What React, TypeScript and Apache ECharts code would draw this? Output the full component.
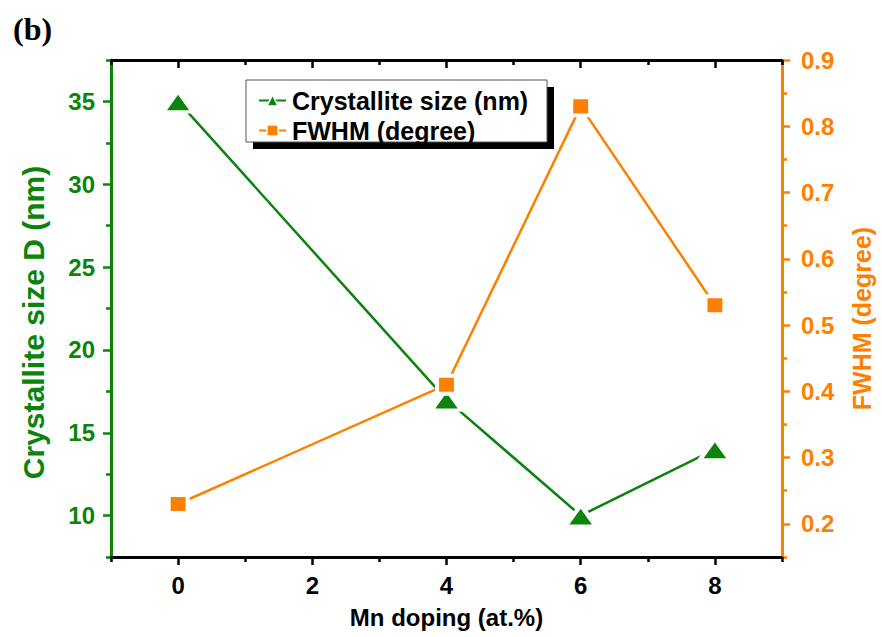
import React, { useEffect, useRef } from "react";
import * as echarts from "echarts";

const dopingX = [0, 4, 6, 8];
const crystalliteSize = [35, 17, 10, 14];
const fwhmDegree = [0.23, 0.41, 0.83, 0.53];

const xMajorTicks = [0, 2, 4, 6, 8];
const xMinorTicks = [-1, 1, 3, 5, 7, 9];
const leftMajorTicks = [10, 15, 20, 25, 30, 35];
const leftMinorTicks = [7.5, 12.5, 17.5, 22.5, 27.5, 32.5, 37.5];
const rightMajorTicks = [0.2, 0.3, 0.4, 0.5, 0.6, 0.7, 0.8, 0.9];
const rightMinorTicks = [0.15, 0.25, 0.35, 0.45, 0.55, 0.65, 0.75, 0.85];

const GREEN = "#0a840a";
const ORANGE = "#ff8000";
const FONT = "Arial, 'Liberation Sans', Helvetica, sans-serif";

export default function App() {
  const ref = useRef<HTMLDivElement>(null);
  useEffect(() => {
    document.body.style.margin = "0";
    const chart = echarts.init(ref.current!, null, { renderer: "svg" });
    const baseX = { type: "value", min: -1, max: 9, splitLine: { show: false } };
    const tickStyle = (color: string) => ({ color, width: 2.5 });
    const option: any = {
      animation: false,
      backgroundColor: "#fff",
      title: {
        text: "(b)",
        left: 8,
        top: 8,
        textStyle: {
          fontFamily: "'Times New Roman', 'Liberation Serif', serif",
          fontWeight: "bold",
          fontSize: 32,
          color: "#000",
        },
      },
      grid: { left: 111, right: 99, top: 60, bottom: 80 },
      graphic: [
        { type: "rect", z: 10, shape: { x: 253, y: 87, width: 301, height: 62 }, style: { fill: "#000" } },
        { type: "rect", z: 11, shape: { x: 246, y: 80, width: 301, height: 62 }, style: { fill: "#fff", stroke: "#555", lineWidth: 1 } },
      ],
      legend: {
        z: 20,
        orient: "vertical",
        left: 252,
        top: 84,
        padding: [4, 6, 4, 6],
        itemGap: 5,
        itemWidth: 27,
        itemHeight: 14,
        itemStyle: { borderWidth: 1.5, borderColor: "#fff" },
        textStyle: { fontFamily: FONT, fontWeight: "bold", fontSize: 25, color: "#000", padding: [0, 0, 0, 1] },
        data: ["Crystallite size (nm)", "FWHM (degree)"],
      },
      xAxis: [
        {
          ...baseX,
          position: "bottom",
          name: "Mn doping (at.%)",
          nameLocation: "middle",
          nameGap: 48,
          nameTextStyle: { fontFamily: FONT, fontWeight: "bold", fontSize: 24, color: "#000" },
          axisLine: { show: true, onZero: false, lineStyle: { color: "#000", width: 3 } },
          axisTick: { show: true, customValues: xMajorTicks, length: 8, lineStyle: tickStyle("#000") },
          axisLabel: {
            show: true,
            customValues: xMajorTicks,
            margin: 16,
            fontFamily: FONT,
            fontWeight: "bold",
            fontSize: 24,
            color: "#000",
          },
        },
        {
          ...baseX,
          position: "bottom",
          axisLine: { show: false, onZero: false },
          axisTick: { show: true, customValues: xMinorTicks, length: 5, lineStyle: tickStyle("#000") },
          axisLabel: { show: false },
        },
        {
          ...baseX,
          position: "top",
          axisLine: { show: true, onZero: false, lineStyle: { color: "#000", width: 3 } },
          axisTick: { show: true, inside: true, customValues: xMajorTicks, length: 8, lineStyle: tickStyle("#000") },
          axisLabel: { show: false },
        },
        {
          ...baseX,
          position: "top",
          axisLine: { show: false, onZero: false },
          axisTick: { show: true, inside: true, customValues: xMinorTicks, length: 5, lineStyle: tickStyle("#000") },
          axisLabel: { show: false },
        },
      ],
      yAxis: [
        {
          type: "value",
          position: "left",
          min: 7.5,
          max: 37.5,
          splitLine: { show: false },
          name: "Crystallite size D (nm)",
          nameLocation: "middle",
          nameRotate: 90,
          nameGap: 63,
          nameTextStyle: { fontFamily: FONT, fontWeight: "bold", fontSize: 30, color: GREEN, padding: [0, 28, 0, 0] },
          axisLine: { show: true, onZero: false, lineStyle: { color: GREEN, width: 3 } },
          axisTick: { show: true, customValues: leftMajorTicks, length: 8, lineStyle: tickStyle(GREEN) },
          axisLabel: {
            show: true,
            customValues: leftMajorTicks,
            margin: 16,
            fontFamily: FONT,
            fontWeight: "bold",
            fontSize: 24,
            color: GREEN,
          },
        },
        {
          type: "value",
          position: "left",
          min: 7.5,
          max: 37.5,
          splitLine: { show: false },
          axisLine: { show: false, onZero: false },
          axisTick: { show: true, customValues: leftMinorTicks, length: 5, lineStyle: tickStyle(GREEN) },
          axisLabel: { show: false },
        },
        {
          type: "value",
          position: "right",
          min: 0.15,
          max: 0.9,
          splitLine: { show: false },
          name: "FWHM (degree)",
          nameLocation: "middle",
          nameRotate: 90,
          nameGap: 67,
          nameTextStyle: { fontFamily: FONT, fontWeight: "bold", fontSize: 25, color: ORANGE, padding: [0, 20, 0, 0] },
          axisLine: { show: true, onZero: false, lineStyle: { color: ORANGE, width: 3 } },
          axisTick: { show: true, customValues: rightMajorTicks, length: 8, lineStyle: tickStyle(ORANGE) },
          axisLabel: {
            show: true,
            customValues: rightMajorTicks,
            margin: 19,
            fontFamily: FONT,
            fontWeight: "bold",
            fontSize: 24,
            color: ORANGE,
            formatter: (v: number) => v.toFixed(1),
          },
        },
        {
          type: "value",
          position: "right",
          min: 0.15,
          max: 0.9,
          splitLine: { show: false },
          axisLine: { show: false, onZero: false },
          axisTick: { show: true, customValues: rightMinorTicks, length: 5, lineStyle: tickStyle(ORANGE) },
          axisLabel: { show: false },
        },
      ],
      series: [
        {
          name: "Crystallite size (nm)",
          type: "line",
          xAxisIndex: 0,
          yAxisIndex: 0,
          data: dopingX.map((x, i) => [x, crystalliteSize[i]]),
          symbol: "triangle",
          symbolSize: [30, 21],
          lineStyle: { color: GREEN, width: 2.5 },
          itemStyle: { color: GREEN, borderColor: "#fff", borderWidth: 4, borderJoin: "round" },
          z: 3,
        },
        {
          name: "FWHM (degree)",
          type: "line",
          xAxisIndex: 0,
          yAxisIndex: 2,
          data: dopingX.map((x, i) => [x, fwhmDegree[i]]),
          symbol: "rect",
          symbolSize: [19, 18],
          lineStyle: { color: ORANGE, width: 2.5 },
          itemStyle: { color: ORANGE, borderColor: "#fff", borderWidth: 4 },
          z: 3,
        },
      ],
    };
    chart.setOption(option);
    return () => chart.dispose();
  }, []);
  return <div ref={ref} style={{ width: 882, height: 637 }} />;
}
